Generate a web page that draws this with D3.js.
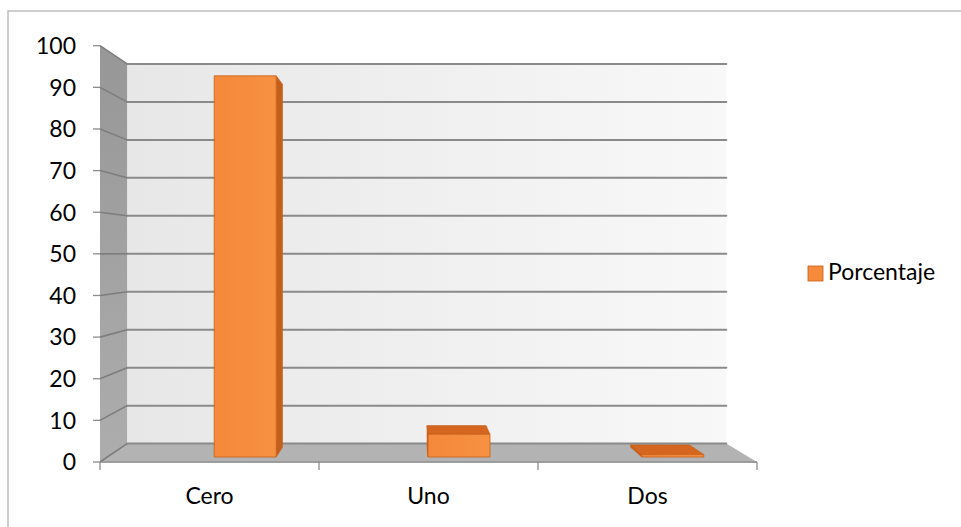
<!DOCTYPE html>
<html><head><meta charset="utf-8">
<script src="https://cdn.jsdelivr.net/npm/d3@7"></script>
<style>html,body{margin:0;padding:0;background:#fff;}svg{display:block;}</style>
</head><body>
<svg id="chart" width="961" height="527"></svg>
<script>
const categories = ["Cero", "Uno", "Dos"];
const values = [93.8, 5.6, 0.6];
const yTicks = [0, 10, 20, 30, 40, 50, 60, 70, 80, 90, 100];
const seriesName = "Porcentaje";

const svg = d3.select("#chart");
const FONT = "Lato, 'Open Sans', sans-serif";

// front-plane scales
const x = d3.scaleBand().domain(categories).range([100, 757]);
const y = d3.scaleLinear().domain([0, 100]).range([462, 45.7]);
// depth -> perspective shrink factor toward the vanishing point
const depth = d3.scaleLinear().domain([0, 1]).range([1, 0.912]);
const V = [408, 253];
function P(xf, yf, z) {
  const s = depth(z);
  return [V[0] + s * (xf - V[0]), V[1] + s * (yf - V[1])];
}
const line = d3.line();
const poly = pts => line(pts) + "Z";

const defs = svg.append("defs");
const gBack = defs.append("linearGradient").attr("id", "backwall").attr("x1", 0).attr("x2", 1).attr("y1", 0).attr("y2", 0);
gBack.append("stop").attr("offset", 0).attr("stop-color", "#e7e7e7");
gBack.append("stop").attr("offset", 1).attr("stop-color", "#f8f8f8");
const gLeft = defs.append("linearGradient").attr("id", "leftwall").attr("x1", 0).attr("x2", 0).attr("y1", 0).attr("y2", 1);
gLeft.append("stop").attr("offset", 0).attr("stop-color", "#979797");
gLeft.append("stop").attr("offset", 1).attr("stop-color", "#adadad");
const gFront = defs.append("linearGradient").attr("id", "barfront").attr("x1", 0).attr("x2", 1).attr("y1", 0).attr("y2", 0);
gFront.append("stop").attr("offset", 0).attr("stop-color", "#f5883a");
gFront.append("stop").attr("offset", 1).attr("stop-color", "#f79142");

// chart border
svg.append("rect").attr("x", 8).attr("y", 11).attr("width", 1000).attr("height", 700)
  .attr("fill", "none").attr("stroke", "#bdbdbd").attr("stroke-width", 1.5);

const [x0, x1] = x.range();
const yMin = 0, yMax = 100;

// back wall
svg.append("path").attr("d", poly([P(x0, y(yMax), 1), P(x1, y(yMax), 1), P(x1, y(yMin), 1), P(x0, y(yMin), 1)]))
  .attr("fill", "url(#backwall)");
// left wall
svg.append("path").attr("d", poly([P(x0, y(yMax), 0), P(x0, y(yMax), 1), P(x0, y(yMin), 1), P(x0, y(yMin), 0)]))
  .attr("fill", "url(#leftwall)");
// floor
svg.append("path").attr("d", poly([P(x0, y(yMin), 0), P(x0, y(yMin), 1), P(x1, y(yMin), 1), P(x1, y(yMin), 0)]))
  .attr("fill", "#b3b3b3");
svg.append("path").attr("d", line([P(x0, y(yMin), 0), P(x1, y(yMin), 0)]))
  .attr("stroke", "#c9c9c9").attr("stroke-width", 1.5).attr("fill", "none");

// gridlines: back wall + left wall
yTicks.forEach(v => {
  svg.append("path").attr("d", line([P(x0, y(v), 1), P(x1, y(v), 1)]))
    .attr("stroke", "#8a8a8a").attr("stroke-width", 2).attr("fill", "none").attr("stroke-linecap", "round");
  svg.append("path").attr("d", line([P(x0, y(v), 0), P(x0, y(v), 1)]))
    .attr("stroke", "#7d7d7d").attr("stroke-width", 1.6).attr("fill", "none");
});

// bars
const zF = 0.27, zB = 0.8;
const barStart = 0.5, barFrac = 0.29;
categories.forEach((c, i) => {
  const v = values[i];
  const xl = x(c) + x.bandwidth() * barStart;
  const xr = xl + x.bandwidth() * barFrac;
  const yt = y(v), yb = y(0);
  const g = svg.append("g");
  const edge = "#c65f17";
  if (xr < V[0]) {
    g.append("path").attr("d", poly([P(xr, yt, zF), P(xr, yt, zB), P(xr, yb, zB), P(xr, yb, zF)]))
      .attr("fill", "#c45e1b").attr("stroke", edge).attr("stroke-width", 0.6);
  }
  if (xl > V[0]) {
    g.append("path").attr("d", poly([P(xl, yt, zF), P(xl, yt, zB), P(xl, yb, zB), P(xl, yb, zF)]))
      .attr("fill", "#c45e1b").attr("stroke", edge).attr("stroke-width", 0.6);
  }
  if (yt > V[1]) {
    g.append("path").attr("d", poly([P(xl, yt, zF), P(xl, yt, zB), P(xr, yt, zB), P(xr, yt, zF)]))
      .attr("fill", "#d4661f").attr("stroke", edge).attr("stroke-width", 0.6);
  }
  g.append("path").attr("d", poly([P(xl, yt, zF), P(xr, yt, zF), P(xr, yb, zF), P(xl, yb, zF)]))
    .attr("fill", "url(#barfront)").attr("stroke", edge).attr("stroke-width", 0.8);
});

// y axis ticks + labels
yTicks.forEach(v => {
  svg.append("line").attr("x1", x0 - 7).attr("x2", x0).attr("y1", y(v)).attr("y2", y(v))
    .attr("stroke", "#8c8c8c").attr("stroke-width", 1.3);
  svg.append("text").attr("x", 76).attr("y", y(v)).attr("dy", "0.36em")
    .attr("text-anchor", "end").attr("font-family", FONT).attr("font-size", 23)
    .attr("fill", "#000").text(v);
});

// x axis line, ticks, labels
svg.append("line").attr("x1", x0).attr("x2", x1).attr("y1", y(0)).attr("y2", y(0))
  .attr("stroke", "#8c8c8c").attr("stroke-width", 1.3);
const xTickPos = categories.map(c => x(c)).concat([x1]);
xTickPos.forEach(px => {
  svg.append("line").attr("x1", px).attr("x2", px).attr("y1", y(0)).attr("y2", y(0) + 8)
    .attr("stroke", "#8c8c8c").attr("stroke-width", 1.3);
});
categories.forEach(c => {
  svg.append("text").attr("x", x(c) + x.bandwidth() / 2).attr("y", 504)
    .attr("text-anchor", "middle").attr("font-family", FONT).attr("font-size", 23)
    .attr("fill", "#000").text(c);
});

// legend
const lg = svg.append("g").attr("transform", "translate(808,266)");
lg.append("rect").attr("x", 0).attr("y", 0).attr("width", 15).attr("height", 15)
  .attr("fill", "#f68b3b").attr("stroke", "#c65f17").attr("stroke-width", 0.8);
lg.append("text").attr("x", 20).attr("y", 14).attr("font-family", FONT).attr("font-size", 23)
  .attr("fill", "#000").text(seriesName);
</script>
</body></html>
